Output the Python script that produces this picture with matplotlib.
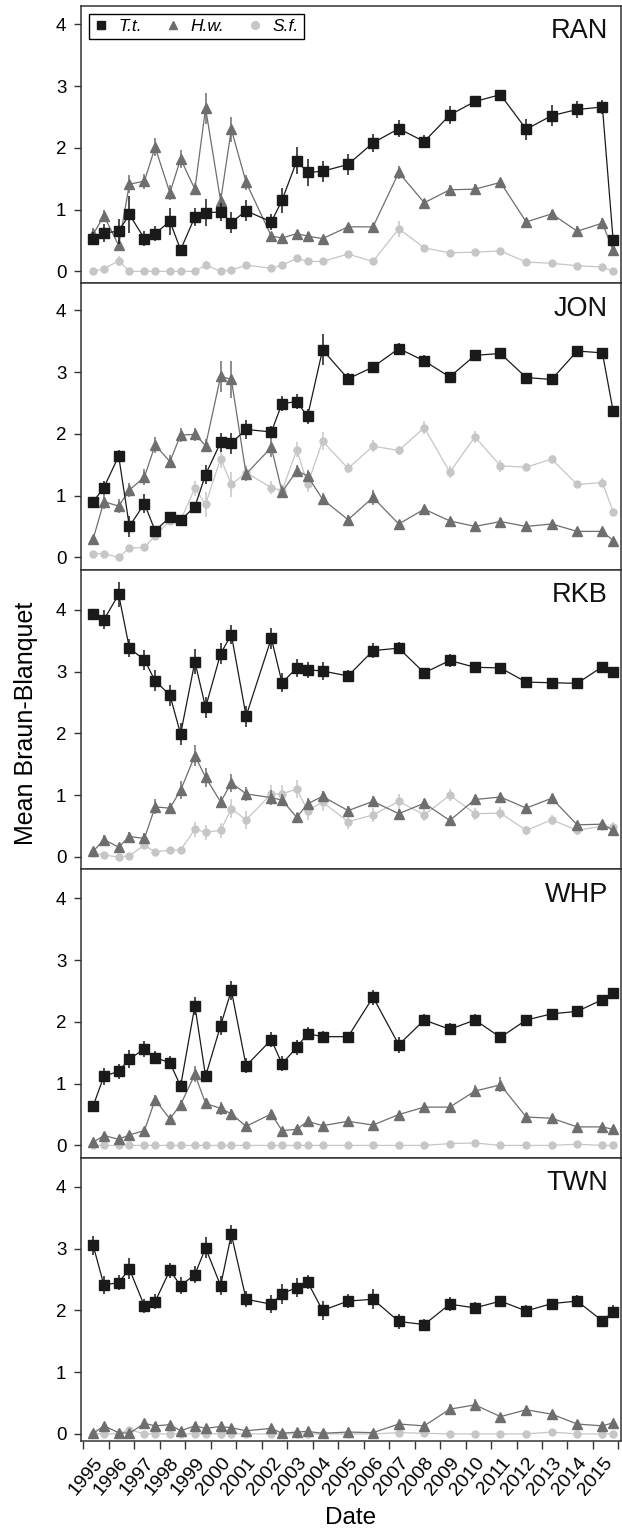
import matplotlib.pyplot as plt
from matplotlib.lines import Line2D
import numpy as np

plt.rcParams['font.family'] = ['Liberation Sans', 'DejaVu Sans']

# sampling dates as decimal years (spring / autumn surveys)
DATES = [1995.39, 1995.81, 1996.39, 1996.81, 1997.40, 1997.82, 1998.40, 1998.82,
         1999.38, 1999.80, 2000.39, 2000.81, 2001.39, 2002.38, 2002.80, 2003.38,
         2003.80, 2004.39, 2005.39, 2006.37, 2007.38, 2008.38, 2009.38, 2010.37,
         2011.37, 2012.38, 2013.38, 2014.38, 2015.37, 2015.79]
YEARS = list(range(1995, 2016))
SITES = ["RAN", "JON", "RKB", "WHP", "TWN"]
SPECIES = ["T.t.", "H.w.", "S.f."]

# ---- RAN
RAN_TT = [0.53, 0.62, 0.65, 0.92, 0.53, 0.61, 0.81, 0.35, 0.88, 0.95, 0.96, 0.79, 0.98, 0.80, 1.15,
          1.79, 1.60, 1.62, 1.73, 2.08, 2.31, 2.10, 2.53, 2.75, 2.86, 2.30, 2.52, 2.62, 2.66, 0.51]
RAN_TT_SE = [0.10, 0.15, 0.20, 0.30, 0.12, 0.12, 0.22, 0.05, 0.15, 0.22, 0.15, 0.17, 0.17, 0.13, 0.20,
             0.22, 0.22, 0.17, 0.17, 0.15, 0.14, 0.10, 0.15, 0.06, 0.06, 0.17, 0.17, 0.13, 0.12, 0.08]
RAN_HW = [0.60, 0.90, 0.42, 1.41, 1.46, 2.01, 1.27, 1.82, 1.33, 2.64, 1.14, 2.30, 1.44, 0.57, 0.54,
          0.61, 0.57, 0.53, 0.72, 0.72, 1.60, 1.11, 1.32, 1.33, 1.44, 0.80, 0.93, 0.65, 0.78, 0.34]
RAN_HW_SE = [0.10, 0.10, 0.08, 0.15, 0.12, 0.15, 0.12, 0.15, 0.10, 0.25, 0.12, 0.20, 0.12, 0.05, 0.05,
             0.05, 0.07, 0.05, 0.05, 0.07, 0.10, 0.06, 0.07, 0.08, 0.05, 0.06, 0.07, 0.09, 0.08, 0.05]
RAN_SF = [0.00, 0.04, 0.17, 0.00, 0.00, 0.00, 0.00, 0.00, 0.00, 0.10, 0.00, 0.02, 0.10, 0.05, 0.10,
          0.21, 0.16, 0.16, 0.28, 0.16, 0.69, 0.38, 0.30, 0.31, 0.33, 0.15, 0.13, 0.09, 0.07, 0.00]
RAN_SF_SE = [0.00, 0.02, 0.08, 0.00, 0.00, 0.00, 0.00, 0.00, 0.00, 0.07, 0.00, 0.02, 0.03, 0.03, 0.04,
             0.05, 0.05, 0.04, 0.04, 0.03, 0.13, 0.04, 0.03, 0.03, 0.03, 0.02, 0.02, 0.02, 0.02, 0.00]

# ---- JON
JON_TT = [0.90, 1.13, 1.64, 0.50, 0.87, 0.43, 0.65, 0.60, 0.82, 1.34, 1.86, 1.85, 2.07, 2.03, 2.49,
          2.52, 2.28, 3.36, 2.89, 3.08, 3.38, 3.18, 2.92, 3.27, 3.30, 2.91, 2.88, 3.34, 3.31, 2.37]
JON_TT_SE = [0.07, 0.10, 0.10, 0.17, 0.15, 0.05, 0.06, 0.05, 0.08, 0.15, 0.15, 0.17, 0.15, 0.10, 0.12,
             0.12, 0.12, 0.25, 0.09, 0.08, 0.09, 0.10, 0.08, 0.06, 0.05, 0.05, 0.05, 0.05, 0.07, 0.08]
JON_HW = [0.30, 0.90, 0.83, 1.09, 1.30, 1.82, 1.55, 1.98, 1.99, 1.81, 2.93, 2.88, 1.35, 1.78, 1.06,
          1.40, 1.32, 0.94, 0.61, 0.97, 0.54, 0.78, 0.59, 0.50, 0.58, 0.50, 0.54, 0.42, 0.42, 0.27]
JON_HW_SE = [0.04, 0.12, 0.12, 0.12, 0.13, 0.13, 0.10, 0.12, 0.10, 0.10, 0.25, 0.30, 0.12, 0.15, 0.10,
             0.10, 0.10, 0.10, 0.07, 0.12, 0.05, 0.07, 0.04, 0.04, 0.04, 0.04, 0.04, 0.04, 0.04, 0.03]
JON_SF = [0.06, 0.06, 0.00, 0.15, 0.16, 0.35, 0.59, 0.60, 1.12, 0.86, 1.60, 1.18, 1.37, 1.13, 1.08,
          1.74, 1.18, 1.88, 1.44, 1.80, 1.73, 2.10, 1.38, 1.95, 1.48, 1.46, 1.59, 1.18, 1.21, 0.74]
JON_SF_SE = [0.02, 0.02, 0.00, 0.04, 0.04, 0.07, 0.06, 0.06, 0.12, 0.20, 0.15, 0.20, 0.12, 0.10, 0.10,
             0.12, 0.12, 0.15, 0.08, 0.10, 0.08, 0.10, 0.10, 0.10, 0.10, 0.07, 0.07, 0.06, 0.07, 0.05]

# ---- RKB
RKB_TT = [3.93, 3.84, 4.25, 3.38, 3.19, 2.85, 2.62, 1.99, 3.16, 2.42, 3.29, 3.60, 2.28, 3.54, 2.82,
          3.06, 3.03, 3.01, 2.93, 3.34, 3.38, 2.98, 3.18, 3.07, 3.06, 2.83, 2.82, 2.81, 3.08, 3.00]
RKB_TT_SE = [0.08, 0.15, 0.20, 0.15, 0.16, 0.17, 0.17, 0.18, 0.20, 0.17, 0.17, 0.15, 0.17, 0.17, 0.15,
             0.15, 0.13, 0.15, 0.10, 0.12, 0.10, 0.07, 0.11, 0.07, 0.06, 0.05, 0.05, 0.05, 0.05, 0.06]
RKB_HW = [0.09, 0.28, 0.16, 0.33, 0.30, 0.81, 0.79, 1.08, 1.64, 1.29, 0.89, 1.20, 1.02, 0.96, 0.92,
          0.64, 0.86, 0.98, 0.75, 0.90, 0.70, 0.87, 0.59, 0.93, 0.97, 0.79, 0.95, 0.52, 0.53, 0.43]
RKB_HW_SE = [0.03, 0.08, 0.06, 0.08, 0.08, 0.12, 0.09, 0.15, 0.17, 0.15, 0.10, 0.15, 0.12, 0.12, 0.10,
             0.07, 0.10, 0.09, 0.07, 0.08, 0.07, 0.07, 0.06, 0.07, 0.07, 0.06, 0.07, 0.05, 0.05, 0.05]
RKB_SF = [0.06, 0.03, 0.00, 0.02, 0.19, 0.08, 0.11, 0.11, 0.45, 0.40, 0.43, 0.78, 0.60, 1.02, 1.02,
          1.10, 0.75, 0.89, 0.57, 0.68, 0.90, 0.68, 1.00, 0.70, 0.71, 0.43, 0.60, 0.43, 0.50, 0.48]
RKB_SF_SE = [0.02, 0.02, 0.00, 0.02, 0.05, 0.02, 0.03, 0.03, 0.12, 0.12, 0.12, 0.15, 0.15, 0.15, 0.15,
             0.15, 0.15, 0.15, 0.12, 0.12, 0.12, 0.10, 0.10, 0.10, 0.10, 0.07, 0.08, 0.07, 0.07, 0.08]

# ---- WHP
WHP_TT = [0.64, 1.12, 1.20, 1.40, 1.56, 1.42, 1.34, 0.96, 2.26, 1.12, 1.94, 2.51, 1.29, 1.71, 1.32,
          1.59, 1.81, 1.76, 1.76, 2.40, 1.63, 2.03, 1.88, 2.03, 1.75, 2.03, 2.13, 2.17, 2.36, 2.46]
WHP_TT_SE = [0.08, 0.14, 0.12, 0.15, 0.13, 0.11, 0.11, 0.10, 0.15, 0.10, 0.15, 0.15, 0.12, 0.12, 0.12,
             0.12, 0.10, 0.10, 0.08, 0.12, 0.13, 0.10, 0.10, 0.10, 0.09, 0.06, 0.07, 0.05, 0.04, 0.06]
WHP_HW = [0.05, 0.16, 0.10, 0.17, 0.24, 0.74, 0.43, 0.66, 1.15, 0.68, 0.60, 0.51, 0.31, 0.51, 0.24,
          0.26, 0.39, 0.32, 0.39, 0.33, 0.50, 0.62, 0.62, 0.88, 0.98, 0.46, 0.44, 0.30, 0.30, 0.26]
WHP_HW_SE = [0.02, 0.05, 0.03, 0.04, 0.05, 0.08, 0.05, 0.07, 0.13, 0.08, 0.10, 0.08, 0.04, 0.06, 0.04,
             0.04, 0.06, 0.04, 0.04, 0.05, 0.05, 0.05, 0.07, 0.10, 0.12, 0.07, 0.06, 0.04, 0.04, 0.04]
WHP_SF = [0.00, 0.00, 0.00, 0.00, 0.00, 0.00, 0.00, 0.00, 0.00, 0.00, 0.00, 0.00, 0.00, 0.00, 0.00,
          0.00, 0.00, 0.00, 0.00, 0.00, 0.00, 0.00, 0.03, 0.04, 0.00, 0.00, 0.00, 0.02, 0.00, 0.00]
WHP_SF_SE = [0.00] * 30

# ---- TWN
TWN_TT = [3.05, 2.41, 2.45, 2.67, 2.07, 2.14, 2.65, 2.40, 2.58, 3.01, 2.40, 3.23, 2.18, 2.10, 2.27,
          2.37, 2.46, 2.00, 2.15, 2.18, 1.82, 1.77, 2.10, 2.04, 2.15, 1.99, 2.11, 2.15, 1.83, 1.98]
TWN_TT_SE = [0.15, 0.15, 0.12, 0.17, 0.12, 0.12, 0.12, 0.14, 0.13, 0.17, 0.15, 0.15, 0.13, 0.15, 0.16,
             0.15, 0.12, 0.15, 0.11, 0.16, 0.12, 0.09, 0.11, 0.10, 0.08, 0.09, 0.08, 0.10, 0.07, 0.10]
TWN_HW = [0.01, 0.13, 0.02, 0.01, 0.17, 0.13, 0.15, 0.05, 0.13, 0.09, 0.12, 0.10, 0.05, 0.09, 0.01,
          0.03, 0.04, 0.01, 0.03, 0.02, 0.16, 0.13, 0.40, 0.47, 0.28, 0.39, 0.32, 0.16, 0.13, 0.18]
TWN_HW_SE = [0.01, 0.05, 0.02, 0.01, 0.03, 0.03, 0.03, 0.02, 0.03, 0.03, 0.03, 0.03, 0.02, 0.02, 0.01,
             0.02, 0.02, 0.01, 0.02, 0.01, 0.04, 0.03, 0.08, 0.10, 0.05, 0.05, 0.05, 0.03, 0.03, 0.03]
TWN_SF = [0.00, 0.00, 0.00, 0.07, 0.00, 0.00, 0.00, 0.00, 0.00, 0.00, 0.00, 0.00, 0.00, 0.00, 0.00,
          0.00, 0.00, 0.00, 0.00, 0.00, 0.02, 0.01, 0.00, 0.00, 0.00, 0.00, 0.03, 0.00, 0.00, 0.00]
TWN_SF_SE = [0.00] * 30

DATA = {
    "RAN": [(RAN_TT, RAN_TT_SE), (RAN_HW, RAN_HW_SE), (RAN_SF, RAN_SF_SE)],
    "JON": [(JON_TT, JON_TT_SE), (JON_HW, JON_HW_SE), (JON_SF, JON_SF_SE)],
    "RKB": [(RKB_TT, RKB_TT_SE), (RKB_HW, RKB_HW_SE), (RKB_SF, RKB_SF_SE)],
    "WHP": [(WHP_TT, WHP_TT_SE), (WHP_HW, WHP_HW_SE), (WHP_SF, WHP_SF_SE)],
    "TWN": [(TWN_TT, TWN_TT_SE), (TWN_HW, TWN_HW_SE), (TWN_SF, TWN_SF_SE)],
}

# styles
COLORS = ["#1a1a1a", "#6e6e6e", "#c6c6c6"]
MARKERS = ["s", "^", "o"]
MSIZES = [6.5, 6.5, 5.0]
ZORDERS = [5, 4, 3]
YLIMS = [(-0.19, 4.30), (-0.20, 4.44), (-0.20, 4.65), (-0.20, 4.47), (-0.11, 4.47)]
SPINE = "#333333"

W, H = 622, 1530
fig = plt.figure(figsize=(W / 100, H / 100), dpi=100)
gs = fig.add_gridspec(len(SITES), 1, hspace=0,
                      height_ratios=[hi - lo for lo, hi in YLIMS],
                      left=80.7 / W, right=620.5 / W, top=1 - 5.7 / H, bottom=1 - 1440.7 / H)

axes = []
for i, site in enumerate(SITES):
    ax = fig.add_subplot(gs[i], sharex=axes[0] if axes else None)
    axes.append(ax)
    for k, (vals, se) in enumerate(DATA[site]):
        ax.errorbar(DATES, vals, yerr=se, fmt="-", marker=MARKERS[k], color=COLORS[k],
                    ms=MSIZES[k], lw=0.9, elinewidth=1.1, capsize=0, zorder=ZORDERS[k])
    ax.set_ylim(*YLIMS[i])
    ax.set_yticks([0, 1, 2, 3, 4])
    ax.tick_params(axis="y", direction="out", length=5.3, width=1, color=SPINE,
                   labelsize=13.5, pad=5)
    for s in ax.spines.values():
        s.set_color(SPINE)
        s.set_linewidth(1.1)
    ax.annotate(site, xy=(1, 1), xycoords="axes fraction", xytext=(-9, -9),
                textcoords="offset points", ha="right", va="top", fontsize=19.5, color="#111111")

ax = axes[-1]
ax.set_xlim(1994.90, 2016.08)
ax.set_xticks(YEARS + [2016])
ax.set_xticks([y + 0.9 for y in YEARS], labels=[str(y) for y in YEARS], minor=True)
for a in axes:
    a.tick_params(axis="x", which="major", labelbottom=False, bottom=(a is ax),
                  direction="out", length=5.5, width=1, color=SPINE)
    a.tick_params(axis="x", which="minor", bottom=False, labelbottom=(a is ax),
                  length=0, pad=10, labelsize=14)
for lab in ax.get_xticklabels(minor=True):
    lab.set_rotation(50)
    lab.set_ha("right")
    lab.set_va("top")

handles = [Line2D([], [], ls="none", marker=MARKERS[k], color=COLORS[k], ms=5.5) for k in range(3)]
axes[0].legend(handles, SPECIES, loc="upper left", ncol=3, frameon=True, fancybox=False,
               edgecolor="black", framealpha=1, borderaxespad=0.45, borderpad=0.3,
               handlelength=0.8, handletextpad=0.6, columnspacing=1.4,
               prop={"style": "italic", "size": 12.5}).get_frame().set_linewidth(1.0)

xc = (80.7 + 620.5) / 2 / W
fig.text(xc, 1 - 1518 / H, "Date", ha="center", va="center", fontsize=17.5)
fig.text(26 / W, 1 - 723 / H, "Mean Braun-Blanquet", rotation=90, ha="center", va="center",
         fontsize=18)

plt.savefig("out.png", dpi=100)
